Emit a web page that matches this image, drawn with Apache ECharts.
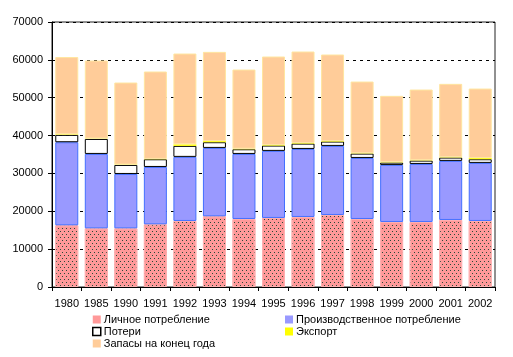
<!DOCTYPE html>
<html><head><meta charset="utf-8">
<script src="https://cdn.jsdelivr.net/npm/echarts@6/dist/echarts.min.js"></script>
<style>html,body{margin:0;padding:0;background:#fff}#c{width:513px;height:357px}</style>
</head><body><div id="c"></div>
<script>
const years = ['1980','1985','1990','1991','1992','1993','1994','1995','1996','1997','1998','1999','2000','2001','2002'];
const personal   = [16300,15500,15500,16560,17450,18680,17970,18240,18500,19030,17970,17180,17180,17710,17450];
const production = [21940,19650,14360,15150,16920,18060,17180,17710,17970,18240,16120,15070,15330,15600,15330];
const losses     = [1940,3960,2380,2030,2910,1500,1230,1410,1410,1150,1150,620,880,880,970];
const exportVals = [150,100,100,100,400,300,150,150,150,150,100,100,100,100,300];
const stocks     = [20410,20610,21670,23080,23990,23570,20910,23370,24170,22840,18930,17520,18670,19370,18370];
const yTicks = [0,10000,20000,30000,40000,50000,60000,70000];

const font = 'Liberation Sans, Arial, sans-serif';
const chart = echarts.init(document.getElementById('c'), null, {renderer:'canvas'});
const barW = 23;
function s(name, data, style, extra){
  return Object.assign({name, type:'bar', stack:'t', data, barWidth:barW, itemStyle:style, emphasis:{disabled:true}}, extra||{});
}
const legText = {fontSize:11, color:'#000', fontFamily:font, padding:[0,0,0,-2]};
function li(name, color, border){
  return {name, icon:'rect', itemStyle:{color, borderColor:border||color, borderWidth:border?1.5:0, decal:'none'}};
}
chart.setOption({
  animation:false,
  textStyle:{fontFamily:font},
  grid:{left:52, right:18, top:22, bottom:70, show:true, borderColor:'#222', borderWidth:1, backgroundColor:'transparent'},
  xAxis:{type:'category', data:years,
    axisLine:{lineStyle:{color:'#000'}},
    axisTick:{show:true, length:4, lineStyle:{color:'#000'}},
    axisLabel:{color:'#000', fontSize:11, fontFamily:font, margin:11, interval:0}},
  yAxis:{type:'value', min:yTicks[0], max:yTicks[yTicks.length-1], interval:10000,
    axisLine:{show:true, lineStyle:{color:'#000'}},
    axisTick:{show:true, length:4, lineStyle:{color:'#000'}},
    axisLabel:{color:'#000', fontSize:11, fontFamily:font, margin:9, formatter:v=>String(v)},
    splitLine:{show:true, lineStyle:{color:'#000', type:[3,4], width:1}}},
  legend:[
    {data:[li('Личное потребление','#FF9999'), li('Потери','#FFFFFF','#000'), li('Запасы на конец года','#FFCC99')],
     orient:'vertical', left:92, top:314, itemWidth:8, itemHeight:8, itemGap:1, padding:0, textStyle:legText},
    {data:[li('Производственное потребление','#9999FF'), li('Экспорт','#FFFF00')],
     orient:'vertical', left:285, top:314, itemWidth:8, itemHeight:8, itemGap:1, padding:0, textStyle:legText}
  ],
  series:[
    s('Личное потребление', personal, {color:'#FF9999', borderColor:'#FFB0B0', borderWidth:1,
      decal:{symbol:'rect', symbolSize:1, color:'#2a4a3a', dashArrayX:[[1,3],[0,2,1,1]], dashArrayY:[1,2]}}),
    s('Производственное потребление', production, {color:'#9999FF', borderColor:'#4470FF', borderWidth:1}),
    s('Потери', losses, {color:'#FFFFFF', borderColor:'#000', borderWidth:1}),
    s('Экспорт', exportVals, {color:'#FFFF00', borderColor:'#FFFF00', borderWidth:0}),
    s('Запасы на конец года', stocks, {color:'#FFCC99', borderColor:'#FFE6A0', borderWidth:1})
  ]
});
</script></body></html>
